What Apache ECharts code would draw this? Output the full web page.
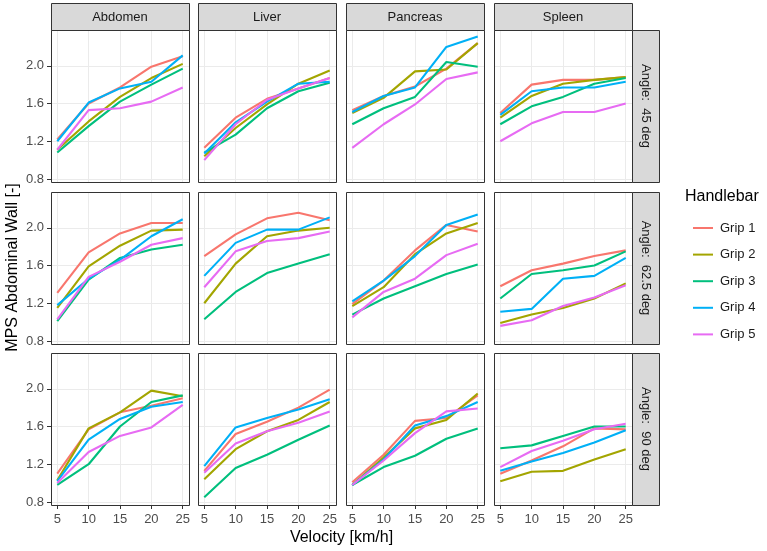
<!DOCTYPE html>
<html>
<head>
<meta charset="utf-8">
<script src="https://cdn.jsdelivr.net/npm/echarts@6/dist/echarts.min.js"></script>
<style>
html, body { margin: 0; padding: 0; background: #fff; }
#main { width: 767px; height: 551px; }
</style>
</head>
<body>
<div id="main"></div>
<script>
// facets and series
const velocity = [5, 10, 15, 20, 25];
const organs = ['Abdomen', 'Liver', 'Pancreas', 'Spleen'];
const angles = ['Angle:  45 deg', 'Angle:  62.5 deg', 'Angle:  90 deg'];
const grips = ['Grip 1', 'Grip 2', 'Grip 3', 'Grip 4', 'Grip 5'];
const gripColors = ['#F8766D', '#A3A500', '#00BF7D', '#00B0F6', '#E76BF3'];
const yTicks = [0.8, 1.2, 1.6, 2.0];

// one row per grip, one value per velocity
const abdomen45 = [
    [1.22, 1.60, 1.77, 1.99, 2.10],
    [1.11, 1.41, 1.67, 1.87, 2.02],
    [1.08, 1.36, 1.62, 1.80, 1.97],
    [1.20, 1.61, 1.76, 1.83, 2.11],
    [1.11, 1.53, 1.55, 1.62, 1.77]
];
const liver45 = [
    [1.13, 1.45, 1.65, 1.76, 1.87],
    [1.04, 1.34, 1.59, 1.81, 1.95],
    [1.08, 1.27, 1.55, 1.73, 1.82],
    [1.07, 1.40, 1.62, 1.81, 1.83],
    [1.00, 1.38, 1.64, 1.76, 1.87]
];
const pancreas45 = [
    [1.53, 1.68, 1.78, 1.97, 2.24],
    [1.50, 1.66, 1.94, 1.96, 2.24],
    [1.38, 1.55, 1.67, 2.04, 1.99],
    [1.51, 1.68, 1.77, 2.20, 2.31],
    [1.13, 1.38, 1.59, 1.86, 1.93]
];
const spleen45 = [
    [1.50, 1.80, 1.85, 1.85, 1.88],
    [1.45, 1.68, 1.81, 1.85, 1.88],
    [1.38, 1.57, 1.67, 1.81, 1.87],
    [1.48, 1.73, 1.77, 1.77, 1.83],
    [1.20, 1.39, 1.51, 1.51, 1.60]
];
const abdomen62 = [
    [1.31, 1.74, 1.94, 2.05, 2.05],
    [1.15, 1.59, 1.81, 1.97, 1.98],
    [1.01, 1.45, 1.68, 1.77, 1.82],
    [1.18, 1.46, 1.66, 1.91, 2.09],
    [1.03, 1.48, 1.64, 1.82, 1.89]
];
const liver62 = [
    [1.70, 1.93, 2.10, 2.16, 2.08],
    [1.20, 1.62, 1.91, 1.97, 2.00],
    [1.03, 1.32, 1.52, 1.62, 1.72],
    [1.49, 1.84, 1.98, 1.98, 2.11],
    [1.37, 1.75, 1.86, 1.89, 1.96]
];
const pancreas62 = [
    [1.19, 1.44, 1.76, 2.03, 1.96],
    [1.17, 1.37, 1.72, 1.94, 2.05],
    [1.08, 1.25, 1.38, 1.51, 1.61],
    [1.22, 1.44, 1.70, 2.03, 2.14],
    [1.05, 1.32, 1.46, 1.71, 1.83]
];
const spleen62 = [
    [1.38, 1.55, 1.62, 1.70, 1.76],
    [0.99, 1.08, 1.15, 1.25, 1.41],
    [1.25, 1.51, 1.55, 1.60, 1.75],
    [1.11, 1.14, 1.46, 1.49, 1.68],
    [0.96, 1.02, 1.17, 1.26, 1.39]
];
const abdomen90 = [
    [1.10, 1.57, 1.75, 1.82, 1.90],
    [1.03, 1.58, 1.75, 1.98, 1.92],
    [0.98, 1.20, 1.60, 1.86, 1.93],
    [1.02, 1.46, 1.68, 1.81, 1.86],
    [1.00, 1.33, 1.50, 1.59, 1.83]
];
const liver90 = [
    [1.13, 1.52, 1.65, 1.80, 1.99],
    [1.04, 1.36, 1.55, 1.67, 1.86],
    [0.85, 1.16, 1.30, 1.46, 1.61],
    [1.18, 1.59, 1.69, 1.78, 1.89],
    [1.11, 1.42, 1.55, 1.64, 1.76]
];
const pancreas90 = [
    [1.01, 1.30, 1.66, 1.69, 1.93],
    [0.98, 1.27, 1.58, 1.67, 1.95],
    [0.98, 1.17, 1.29, 1.47, 1.58],
    [0.98, 1.25, 1.61, 1.71, 1.86],
    [0.98, 1.24, 1.53, 1.76, 1.79]
];
const spleen90 = [
    [1.10, 1.24, 1.39, 1.58, 1.57],
    [1.02, 1.12, 1.13, 1.25, 1.36],
    [1.37, 1.40, 1.50, 1.60, 1.60],
    [1.13, 1.23, 1.32, 1.43, 1.56],
    [1.17, 1.34, 1.45, 1.57, 1.63]
];

const panels = [
    [abdomen45, liver45, pancreas45, spleen45],
    [abdomen62, liver62, pancreas62, spleen62],
    [abdomen90, liver90, pancreas90, spleen90]
];

const FONT = '"Liberation Sans", Arial, sans-serif';
const colLeft = [51, 198, 346, 494];
const rowTop = [30, 192, 353];
const panelW = 138;
const panelH = 152;
const stripSize = 27;

const grids = [], xAxes = [], yAxes = [], series = [], graphics = [];

angles.forEach(function (angle, r) {
    organs.forEach(function (organ, c) {
        const i = r * organs.length + c;
        const isBottom = r === angles.length - 1;
        const isLeft = c === 0;

        grids.push({ left: colLeft[c], top: rowTop[r], width: panelW, height: panelH });

        xAxes.push({
            type: 'value', gridIndex: i, min: 4, max: 26,
            minInterval: 5, maxInterval: 5,
            axisLine: { show: false },
            axisTick: { show: isBottom, length: 4, customValues: velocity, lineStyle: { color: '#333' } },
            axisLabel: {
                show: isBottom, customValues: velocity, margin: 8,
                fontSize: 13, color: '#4d4d4d', fontFamily: FONT
            },
            splitLine: { show: true, lineStyle: { color: '#ebebeb', width: 1 } }
        });

        yAxes.push({
            type: 'value', gridIndex: i, min: 0.768, max: 2.379,
            minInterval: 0.4, maxInterval: 0.4,
            axisLine: { show: false },
            axisTick: { show: isLeft, length: 4, customValues: yTicks, lineStyle: { color: '#333' } },
            axisLabel: {
                show: isLeft, customValues: yTicks, margin: 7,
                fontSize: 13, color: '#4d4d4d', fontFamily: FONT,
                formatter: v => v.toFixed(1)
            },
            splitLine: { show: true, lineStyle: { color: '#ebebeb', width: 1 } }
        });

        const panel = panels[r][c];
        grips.forEach(function (grip, g) {
            series.push({
                type: 'line', name: grip,
                xAxisIndex: i, yAxisIndex: i,
                data: velocity.map((v, k) => [v, panel[g][k]]),
                symbol: 'none', showSymbol: false, clip: true,
                lineStyle: { color: gripColors[g], width: 2.1 },
                itemStyle: { color: gripColors[g] },
                emphasis: { disabled: true }
            });
        });

        // panel border on top of split lines
        graphics.push({
            type: 'rect', z: 100, silent: true,
            shape: { x: colLeft[c] + 0.5, y: rowTop[r] + 0.5, width: panelW, height: panelH },
            style: { fill: 'none', stroke: '#333', lineWidth: 1 }
        });
    });

    // right strip
    graphics.push({
        type: 'rect', z: 100, silent: true,
        shape: { x: colLeft[3] + panelW + 0.5, y: rowTop[r] + 0.5, width: stripSize, height: panelH },
        style: { fill: '#d9d9d9', stroke: '#333', lineWidth: 1 }
    });
    graphics.push({
        type: 'text', z: 101, silent: true,
        x: colLeft[3] + panelW + stripSize / 2 + 0.5, y: rowTop[r] + panelH / 2,
        rotation: -Math.PI / 2,
        style: {
            text: angle, x: 0, y: 0, align: 'center', verticalAlign: 'middle',
            fontSize: 13, fill: '#1a1a1a', fontFamily: FONT
        }
    });
});

organs.forEach(function (organ, c) {
    graphics.push({
        type: 'rect', z: 100, silent: true,
        shape: { x: colLeft[c] + 0.5, y: rowTop[0] - stripSize + 0.5, width: panelW, height: stripSize },
        style: { fill: '#d9d9d9', stroke: '#333', lineWidth: 1 }
    });
    graphics.push({
        type: 'text', z: 101, silent: true,
        x: colLeft[c] + panelW / 2, y: rowTop[0] - stripSize / 2 + 0.5,
        style: {
            text: organ, x: 0, y: 0, align: 'center', verticalAlign: 'middle',
            fontSize: 13, fill: '#1a1a1a', fontFamily: FONT
        }
    });
});

// axis titles and legend title
graphics.push({
    type: 'text', silent: true,
    x: (colLeft[0] + colLeft[3] + panelW) / 2, y: 538,
    style: { text: 'Velocity [km/h]', x: 0, y: 0, align: 'center', verticalAlign: 'middle', fontSize: 16, fill: '#000', fontFamily: FONT }
});
graphics.push({
    type: 'text', silent: true,
    x: 13, y: (rowTop[0] + rowTop[2] + panelH) / 2,
    rotation: Math.PI / 2,
    style: { text: 'MPS Abdominal Wall [-]', x: 0, y: 0, align: 'center', verticalAlign: 'middle', fontSize: 16, fill: '#000', fontFamily: FONT }
});
graphics.push({
    type: 'text', silent: true,
    x: 685, y: 197,
    style: { text: 'Handlebar', x: 0, y: 0, align: 'left', verticalAlign: 'middle', fontSize: 16, fill: '#000', fontFamily: FONT }
});

const myChart = echarts.init(document.getElementById('main'));
const option = {
    animation: false,
    backgroundColor: '#fff',
    grid: grids,
    xAxis: xAxes,
    yAxis: yAxes,
    legend: {
        data: grips,
        orient: 'vertical',
        left: 688, top: 216,
        icon: 'rect', itemWidth: 20, itemHeight: 2,
        itemGap: 12.6,
        selectedMode: false,
        textStyle: { fontSize: 13, color: '#1a1a1a', fontFamily: FONT, lineHeight: 14, padding: [0, 0, 0, 2] }
    },
    graphic: graphics,
    series: series
};

option && myChart.setOption(option);
</script>
</body>
</html>
